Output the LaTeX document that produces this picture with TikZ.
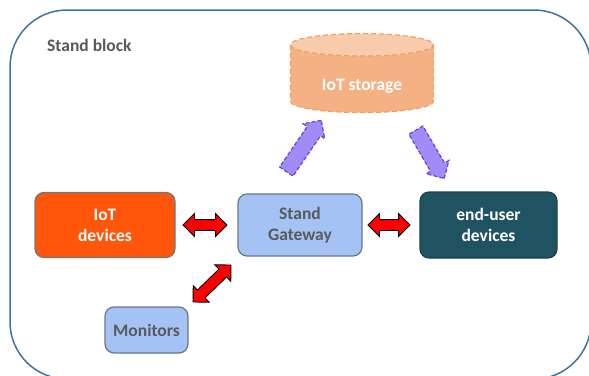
\documentclass[tikz,border=0pt]{standalone}
\usepackage{fontspec}
\setmainfont{Carlito}
\usetikzlibrary{shapes.geometric,shapes.arrows,calc}
\definecolor{frameblue}{HTML}{41719C}
\definecolor{textgray}{HTML}{595959}
\definecolor{boxgray}{HTML}{6B7785}
\definecolor{iotorange}{HTML}{FF560B}
\definecolor{gwblue}{HTML}{A4C2F4}
\definecolor{eudark}{HTML}{205361}
\definecolor{storbody}{HTML}{F4B183}
\definecolor{storend}{HTML}{F8CBAD}
\definecolor{storedge}{HTML}{EFA060}
\definecolor{arrowpurple}{HTML}{A08CF5}
\definecolor{arrowedge}{HTML}{6A3FE0}
\begin{document}
\begin{tikzpicture}[x=1pt,y=-1pt,
    every node/.style={font=\bfseries\fontsize{17.5}{21}\selectfont, align=center},
    box/.style={draw=boxgray, line width=1.2pt, rounded corners=9pt, inner sep=0pt},
    storage/.style={cylinder, shape border rotate=90, shape aspect=0.28,
      minimum width=143pt, minimum height=79pt, inner sep=0pt,
      cylinder uses custom fill, cylinder body fill=storbody, cylinder end fill=storend,
      draw=storedge, line width=1.2pt, dash pattern=on 5pt off 3pt, text=white},
    redarrow/.style={double arrow, fill=red, draw=black, line width=0.9pt,
      inner xsep=0pt, inner ysep=5pt, double arrow head extend=6pt,
      sloped, allow upside down},
    purplearrow/.style={single arrow, fill=arrowpurple, draw=arrowedge, line width=1.2pt,
      dash pattern=on 4pt off 2pt, inner xsep=0pt, inner ysep=7.5pt,
      single arrow head extend=5pt, sloped, allow upside down}]
  \useasboundingbox (0,0) rectangle (589,375);
  \clip (0,0) rectangle (589,375);
  \draw[frameblue, line width=1.5pt, rounded corners=57pt] (10,10) rectangle (591,379);

  \node[text=textgray, anchor=west, inner sep=0pt] (title) at (47,45) {Stand block};
  \node[storage] (stor) at (362,79) {\raisebox{-11pt}[0pt][0pt]{IoT storage}};

  \node[box, fill=iotorange, text=white, minimum width=140pt, minimum height=65pt] (iot) at (105,225) {IoT\\devices};
  \node[box, fill=gwblue, text=textgray, minimum width=124pt, minimum height=62pt] (gw) at (300,225) {Stand\\Gateway};
  \node[box, draw=eudark!80!black, fill=eudark, text=white, minimum width=137pt, minimum height=66pt] (eu) at (488.5,225) {end-user\\devices};
  \node[box, fill=gwblue, text=textgray, minimum width=83pt, minimum height=46pt] (mon) at (146.5,330) {Monitors};

  \coordinate (iotout) at ($(iot.east)+(8,0)$);
  \coordinate (gwin) at ($(gw.west)+(-11,0)$);
  \coordinate (gwout) at ($(gw.east)+(6,0)$);
  \coordinate (euin) at ($(eu.west)+(-10,0)$);
  \coordinate (monout) at ($(mon.north east)+(5,-5)$);
  \coordinate (gwlow) at ($(gw.south west)+(-7,9)$);
  \coordinate (gwup) at ($(gw.north)+(-17,-17)$);
  \coordinate (storin) at ($(stor.south)+(-42,9)$);
  \coordinate (storout) at ($(stor.south)+(51,12)$);
  \coordinate (eutop) at ($(eu.north)+(-45.5,-15)$);

  \path (iotout) -- node[redarrow, minimum height=44pt, minimum width=22pt] {} (gwin);
  \path (gwout) -- node[redarrow, minimum height=42pt, minimum width=22pt] {} (euin);
  \path (monout) -- node[redarrow, minimum height=53pt, minimum width=22pt] {} (gwlow);
  \path (gwup) -- node[purplearrow, minimum height=62pt, minimum width=25pt] {} (storin);
  \path (storout) -- node[purplearrow, minimum height=56pt, minimum width=25pt] {} (eutop);
\end{tikzpicture}
\end{document}
